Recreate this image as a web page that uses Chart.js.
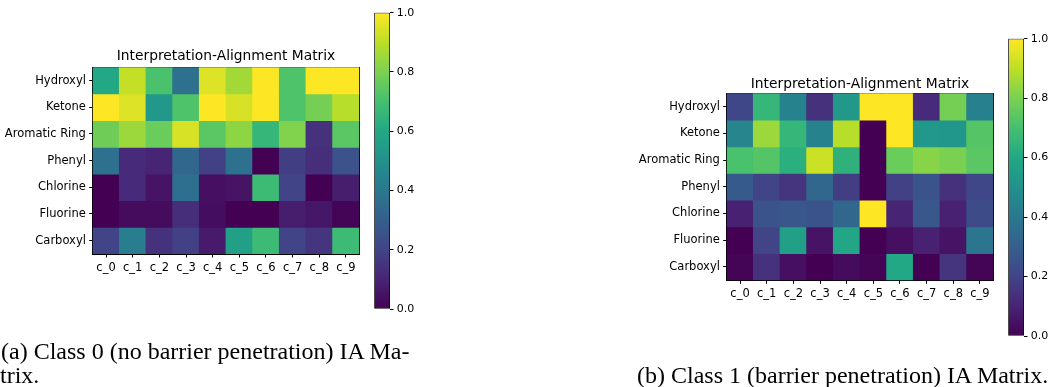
<!DOCTYPE html>
<html>
<head>
<meta charset="utf-8">
<script src="https://cdn.jsdelivr.net/npm/chart.js@4.4.1/dist/chart.umd.min.js"></script>
<style>
html,body{margin:0;padding:0;background:#fff;}
body{width:1048px;height:387px;position:relative;overflow:hidden;}
canvas{position:absolute;left:0;top:0;}
.cap{position:absolute;font-family:'Liberation Serif','Times New Roman',serif;font-size:24px;line-height:24px;color:#000;white-space:nowrap;}
</style>
</head>
<body>
<canvas id="hm0" width="1048" height="387"></canvas>
<canvas id="cb0" width="1048" height="387"></canvas>
<canvas id="hm1" width="1048" height="387"></canvas>
<canvas id="cb1" width="1048" height="387"></canvas>
<div class="cap" style="left:1px;top:339px;">(a) Class 0 (no barrier penetration) IA Ma-</div>
<div class="cap" style="left:0px;top:363px;">trix.</div>
<div class="cap" style="left:637px;top:363px;">(b) Class 1 (barrier penetration) IA Matrix.</div>
<script>
// ---------------- DATA ----------------
const columnLabels = ['c_0','c_1','c_2','c_3','c_4','c_5','c_6','c_7','c_8','c_9'];
const rowLabels = ['Hydroxyl','Ketone','Aromatic Ring','Phenyl','Chlorine','Fluorine','Carboxyl'];
const chartTitle = 'Interpretation-Alignment Matrix';
const colorbarTicks = [0.0, 0.2, 0.4, 0.6, 0.8, 1.0];

// Class 0 (no barrier penetration)
const class0Hydroxyl     = [0.60, 0.91, 0.71, 0.37, 0.95, 0.86, 1.00, 0.72, 1.00, 1.00];
const class0Ketone       = [1.00, 0.95, 0.53, 0.72, 1.00, 0.94, 1.00, 0.72, 0.79, 0.89];
const class0AromaticRing = [0.78, 0.85, 0.77, 0.94, 0.74, 0.83, 0.66, 0.81, 0.14, 0.74];
const class0Phenyl       = [0.37, 0.12, 0.10, 0.33, 0.19, 0.37, 0.00, 0.18, 0.13, 0.25];
const class0Chlorine     = [0.00, 0.12, 0.05, 0.36, 0.04, 0.05, 0.68, 0.20, 0.00, 0.08];
const class0Fluorine     = [0.00, 0.03, 0.03, 0.13, 0.035, 0.00, 0.00, 0.08, 0.06, 0.01];
const class0Carboxyl     = [0.20, 0.42, 0.14, 0.19, 0.07, 0.56, 0.68, 0.20, 0.15, 0.68];

// Class 1 (barrier penetration)
const class1Hydroxyl     = [0.21, 0.66, 0.44, 0.14, 0.53, 1.00, 1.00, 0.12, 0.79, 0.43];
const class1Ketone       = [0.45, 0.85, 0.66, 0.44, 0.89, 0.00, 1.00, 0.53, 0.52, 0.73];
const class1AromaticRing = [0.71, 0.73, 0.63, 0.92, 0.64, 0.00, 0.77, 0.82, 0.80, 0.74];
const class1Phenyl       = [0.28, 0.20, 0.15, 0.33, 0.18, 0.00, 0.19, 0.26, 0.14, 0.21];
const class1Chlorine     = [0.09, 0.26, 0.27, 0.26, 0.33, 1.00, 0.10, 0.27, 0.09, 0.23];
const class1Fluorine     = [0.00, 0.20, 0.56, 0.05, 0.59, 0.00, 0.04, 0.09, 0.05, 0.39];
const class1Carboxyl     = [0.01, 0.14, 0.04, 0.00, 0.03, 0.01, 0.60, 0.00, 0.15, 0.01];

const class0Matrix = [class0Hydroxyl, class0Ketone, class0AromaticRing, class0Phenyl, class0Chlorine, class0Fluorine, class0Carboxyl];
const class1Matrix = [class1Hydroxyl, class1Ketone, class1AromaticRing, class1Phenyl, class1Chlorine, class1Fluorine, class1Carboxyl];

// ---------------- STYLE ----------------
const W = 1048, H = 387;
const VIR = ['#440154','#482475','#414487','#355f8d','#2a788e','#21918c','#22a884','#44bf70','#7ad151','#bddf26','#fde725'];
function hexToRgb(h){return [parseInt(h.slice(1,3),16),parseInt(h.slice(3,5),16),parseInt(h.slice(5,7),16)];}
const VIR_RGB = VIR.map(hexToRgb);
function viridis(t){
  t = Math.max(0, Math.min(1, t));
  const p = t * 10; const i = Math.min(9, Math.floor(p)); const f = p - i;
  const a = VIR_RGB[i], b = VIR_RGB[i+1];
  const c = a.map((v,k)=>Math.round(v + (b[k]-v)*f));
  return 'rgb(' + c.join(',') + ')';
}

Chart.defaults.font.family = "'DejaVu Sans', sans-serif";
Chart.defaults.color = '#000';

const TICK_FS = 11.5, CB_FS = 11, TITLE_FS = 13.8, TL = 3.5;
const YAXW = 90, XAXH = 30;

function heatmap(id, matrix, g){
  const datasets = matrix.map((row, r) => ({
    label: rowLabels[r],
    data: row.map(() => 1),
    backgroundColor: row.map(v => viridis(v)),
    borderWidth: 0,
    inflateAmount: 0.4,
    barPercentage: 1,
    categoryPercentage: 1,
    xAxisID: 'x', yAxisID: 'y'
  }));
  const tlh = TITLE_FS * 1.2;
  const spine = {display: true, color: '#000', width: 1};
  return new Chart(document.getElementById(id), {
    type: 'bar',
    data: {labels: columnLabels, datasets},
    options: {
      responsive: false, animation: false, events: [],
      layout: {padding: {left: g.left - YAXW, top: 0, right: W - g.right, bottom: H - g.bottom - XAXH}},
      plugins: {
        legend: {display: false}, tooltip: {enabled: false},
        title: {display: true, text: chartTitle, fullSize: false, color: '#000',
          font: {size: TITLE_FS, weight: 'normal'},
          padding: {top: g.titleY - tlh/2, bottom: g.top - g.titleY - tlh/2}}
      },
      scales: {
        x: {type: 'category', position: 'bottom', stacked: true, offset: true, z: 1,
          grid: {display: true, offset: false, drawOnChartArea: false, drawTicks: true, tickLength: TL, color: '#000', lineWidth: 1},
          border: spine,
          ticks: {color: '#000', font: {size: TICK_FS}, padding: 3.3, maxRotation: 0, autoSkip: false},
          afterFit: s => { s.height = XAXH; }},
        y: {type: 'linear', position: 'left', stacked: true, reverse: true, min: 0, max: rowLabels.length, z: 1,
          afterBuildTicks: s => { s.ticks = rowLabels.map((_, i) => ({value: i + 0.5})); },
          grid: {display: true, drawOnChartArea: false, drawTicks: true, tickLength: TL, color: '#000', lineWidth: 1},
          border: spine,
          ticks: {color: '#000', font: {size: TICK_FS}, padding: 3.3, autoSkip: false,
            callback: v => rowLabels[Math.floor(v)]},
          afterFit: s => { s.width = YAXW; }},
        xTop: {type: 'category', position: 'top', z: 1,
          grid: {display: true, drawOnChartArea: false, drawTicks: false},
          border: spine, ticks: {display: false},
          afterFit: s => { s.height = 0; }},
        yRight: {type: 'linear', position: 'right', min: 0, max: rowLabels.length, z: 1,
          grid: {display: true, drawOnChartArea: false, drawTicks: false},
          border: spine, ticks: {display: false},
          afterFit: s => { s.width = 0; }}
      }
    }
  });
}

function colorbar(id, g){
  const CBW = Math.min(40, W - g.right);
  return new Chart(document.getElementById(id), {
    type: 'bar',
    data: {labels: [''], datasets: [{
      data: [1],
      backgroundColor: (ctx) => {
        const ca = ctx.chart.chartArea;
        if (!ca) return VIR[5];
        const grad = ctx.chart.ctx.createLinearGradient(0, ca.bottom, 0, ca.top);
        VIR.forEach((c, i) => grad.addColorStop(i / 10, c));
        return grad;
      },
      borderColor: '#000', borderWidth: 1, borderSkipped: false,
      barPercentage: 1, categoryPercentage: 1
    }]},
    options: {
      responsive: false, animation: false, events: [],
      layout: {padding: {left: g.left, top: g.top, right: W - g.right - CBW, bottom: H - g.bottom}},
      plugins: {legend: {display: false}, tooltip: {enabled: false}},
      scales: {
        x: {display: false},
        y: {position: 'right', min: 0, max: 1,
          afterBuildTicks: s => { s.ticks = colorbarTicks.map(v => ({value: v})); },
          grid: {display: true, drawOnChartArea: false, drawTicks: true, tickLength: TL, color: '#000', lineWidth: 1},
          border: {display: false},
          ticks: {color: '#000', font: {size: CB_FS}, padding: 3.2, callback: v => v.toFixed(1)},
          afterFit: s => { s.width = CBW; }}
      }
    }
  });
}

heatmap('hm0', class0Matrix, {left: 92.7, top: 67.3, right: 359.3, bottom: 254, titleY: 56.7});
heatmap('hm1', class1Matrix, {left: 726.7, top: 93.3, right: 993.3, bottom: 280.3, titleY: 84});
colorbar('cb0', {left: 374.3, top: 12.7, right: 390, bottom: 309});
colorbar('cb1', {left: 1008.3, top: 38.7, right: 1024, bottom: 336});
</script>
</body>
</html>
